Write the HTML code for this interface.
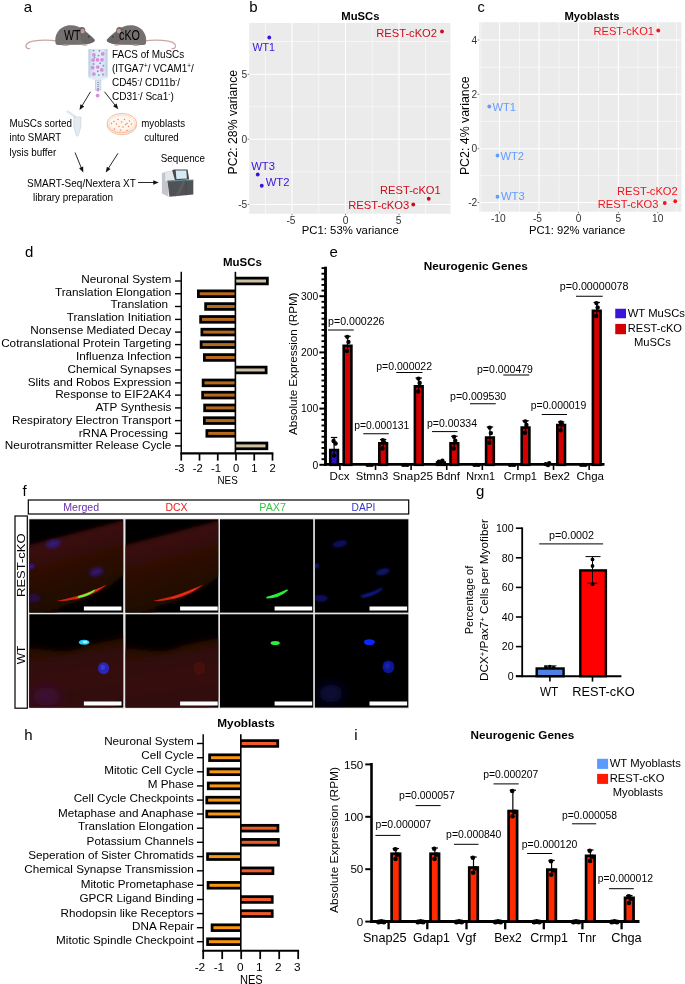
<!DOCTYPE html>
<html><head><meta charset="utf-8"><title>Figure</title>
<style>
html,body{margin:0;padding:0;background:#fff;}
body{width:685px;height:984px;overflow:hidden;}
svg{display:block;font-family:"Liberation Sans",Arial,Helvetica,sans-serif;}

</style></head><body>
<svg width="685" height="984" viewBox="0 0 685 984">
<rect x="0" y="0" width="685" height="984" fill="#fff"/>
<g id="panel-a">
<text x="23.75" y="11.50" font-size="15">a</text>
<g>
<path d="M58 41.2 C50 39.8 40 40 33 41.2 C27.5 42.2 24.8 45 26.3 47.3 C27 48.4 28.5 48.8 29.5 48.6" fill="none" stroke="#c9a7a1" stroke-width="1.3" stroke-linecap="round"/>
<path d="M55.6 43.5 C54 35.5 58.5 27 67.5 25.4 C74 24.4 79.5 26.5 83.5 29.8 C87.5 32.6 91.5 36 94.6 39.8 C95.3 41 93.5 42.6 90.5 43.3 C87.5 44.3 84 44.8 80 44.8 L60 45 C57.2 45 55.9 44.6 55.6 43.5 Z" fill="#757170"/>
<path d="M80 31 C84 31.2 91 35.5 94.6 39.8 C95.3 41 93.5 42.6 90.5 43.3 C86 44.6 82 43 80.5 39.5 Z" fill="#6a6665"/>
<ellipse cx="82" cy="30.6" rx="3.3" ry="3.6" fill="#686362"/><ellipse cx="82.6" cy="31" rx="2.1" ry="2.5" fill="#c09a95"/>
<circle cx="88.6" cy="36.8" r="0.7" fill="#2a2626"/>
<ellipse cx="65.5" cy="45.2" rx="3.4" ry="0.8" fill="#c9a7a1"/><ellipse cx="85" cy="45" rx="2.6" ry="0.75" fill="#c9a7a1"/>
</g>
<g transform="translate(201.50 0) scale(-1 1)">
<path d="M58 41.2 C50 39.8 40 40 33 41.2 C27.5 42.2 24.8 45 26.3 47.3 C27 48.4 28.5 48.8 29.5 48.6" fill="none" stroke="#c9a7a1" stroke-width="1.3" stroke-linecap="round"/>
<path d="M55.6 43.5 C54 35.5 58.5 27 67.5 25.4 C74 24.4 79.5 26.5 83.5 29.8 C87.5 32.6 91.5 36 94.6 39.8 C95.3 41 93.5 42.6 90.5 43.3 C87.5 44.3 84 44.8 80 44.8 L60 45 C57.2 45 55.9 44.6 55.6 43.5 Z" fill="#757170"/>
<path d="M80 31 C84 31.2 91 35.5 94.6 39.8 C95.3 41 93.5 42.6 90.5 43.3 C86 44.6 82 43 80.5 39.5 Z" fill="#6a6665"/>
<ellipse cx="82" cy="30.6" rx="3.3" ry="3.6" fill="#686362"/><ellipse cx="82.6" cy="31" rx="2.1" ry="2.5" fill="#c09a95"/>
<circle cx="88.6" cy="36.8" r="0.7" fill="#2a2626"/>
<ellipse cx="65.5" cy="45.2" rx="3.4" ry="0.8" fill="#c9a7a1"/><ellipse cx="85" cy="45" rx="2.6" ry="0.75" fill="#c9a7a1"/>
</g>
<text x="64.00" y="39.50" font-size="14" textLength="16.50" lengthAdjust="spacingAndGlyphs">WT</text>
<text x="119.00" y="39.50" font-size="14" textLength="21.00" lengthAdjust="spacingAndGlyphs">cKO</text>
<defs><linearGradient id="tubeg" x1="0" x2="1" y1="0" y2="0"><stop offset="0" stop-color="#b9cbe0"/><stop offset="0.18" stop-color="#d6e4f3"/><stop offset="0.5" stop-color="#e4eef9"/><stop offset="0.82" stop-color="#d6e4f3"/><stop offset="1" stop-color="#b9cbe0"/></linearGradient></defs>
<path d="M88.4 49 L107.6 49 L107.6 76 C107.6 78.5 104 80.3 98 80.3 C92 80.3 88.4 78.5 88.4 76 Z" fill="url(#tubeg)"/>
<path d="M89.5 76.5 C91 78.6 94 79.6 98 79.6 C102 79.6 105 78.6 106.5 76.5" fill="none" stroke="#f4f8fc" stroke-width="1.1"/>
<rect x="95.3" y="80" width="5.6" height="10" fill="#dbe6f2" stroke="#b4c4d8" stroke-width="0.6"/>
<rect x="97.2" y="82" width="1.8" height="0.9" fill="#8492a8"/>
<rect x="97.2" y="84" width="1.8" height="0.9" fill="#8492a8"/>
<rect x="97.2" y="86" width="1.8" height="0.9" fill="#8492a8"/>
<rect x="97.2" y="88" width="1.8" height="0.9" fill="#8492a8"/>
<circle cx="93.90" cy="54.80" r="1.85" fill="#d98ae2"/>
<circle cx="102.70" cy="53.90" r="1.85" fill="#d98ae2"/>
<circle cx="93.10" cy="60.00" r="1.85" fill="#d98ae2"/>
<circle cx="97.50" cy="59.80" r="1.85" fill="#d98ae2"/>
<circle cx="102.00" cy="59.80" r="1.85" fill="#d98ae2"/>
<circle cx="92.60" cy="67.70" r="1.85" fill="#d98ae2"/>
<circle cx="97.80" cy="67.00" r="1.85" fill="#d98ae2"/>
<circle cx="101.80" cy="69.90" r="1.85" fill="#d98ae2"/>
<circle cx="93.90" cy="74.00" r="1.85" fill="#d98ae2"/>
<circle cx="93.50" cy="50.60" r="0.95" fill="#8796b2"/>
<circle cx="99.40" cy="50.80" r="0.95" fill="#8796b2"/>
<circle cx="98.50" cy="55.60" r="0.95" fill="#8796b2"/>
<circle cx="93.50" cy="64.00" r="0.95" fill="#8796b2"/>
<circle cx="100.10" cy="63.30" r="0.95" fill="#8796b2"/>
<circle cx="103.40" cy="65.70" r="0.95" fill="#8796b2"/>
<circle cx="97.80" cy="71.20" r="0.95" fill="#8796b2"/>
<circle cx="103.00" cy="74.50" r="0.95" fill="#8796b2"/>
<circle cx="98.80" cy="75.10" r="0.95" fill="#8796b2"/>
<circle cx="94.50" cy="57.40" r="0.95" fill="#8796b2"/>
<circle cx="97.90" cy="90.00" r="1.5" fill="#d98ae2"/>
<circle cx="97.60" cy="95.60" r="1.9" fill="#d98ae2"/>
<text x="112.00" y="57.50" font-size="11.2" textLength="72.25" lengthAdjust="spacingAndGlyphs">FACS of MuSCs</text>
<text x="112" y="71.75" font-size="11.2" textLength="81.75" lengthAdjust="spacingAndGlyphs">(ITGA7<tspan font-size="7" dy="-3.6">+</tspan><tspan dy="3.6">/ VCAM1</tspan><tspan font-size="7" dy="-3.6">+</tspan><tspan dy="3.6">/</tspan></text>
<text x="112" y="86" font-size="11.2" textLength="68" lengthAdjust="spacingAndGlyphs">CD45<tspan font-size="7" dy="-3.6">-</tspan><tspan dy="3.6">/ CD11b</tspan><tspan font-size="7" dy="-3.6">-</tspan><tspan dy="3.6">/</tspan></text>
<text x="112" y="100" font-size="11.2" textLength="61.75" lengthAdjust="spacingAndGlyphs">CD31<tspan font-size="7" dy="-3.6">-</tspan><tspan dy="3.6">/ Sca1</tspan><tspan font-size="7" dy="-3.6">-</tspan><tspan dy="3.6">)</tspan></text>
<line x1="90.50" y1="91.75" x2="81.82" y2="106.15" stroke="#111" stroke-width="0.9"/>
<polygon points="79.50,110.00 80.46,104.15 84.22,106.43" fill="#111"/>
<line x1="104.50" y1="91.75" x2="115.47" y2="105.71" stroke="#111" stroke-width="0.9"/>
<polygon points="118.25,109.25 113.12,106.28 116.58,103.57" fill="#111"/>
<path d="M73.8 117 L80.9 117 L80.9 126.5 L78.2 135.6 C77.8 136.4 76.6 136.4 76.2 135.6 L73.8 126.5 Z" fill="#e4ecf1" stroke="#c3cfd8" stroke-width="0.6"/>
<path d="M74 117 L66.5 111.8 L67.6 110.7 L76 116.2 Z" fill="#e4ecf1" stroke="#c8d3db" stroke-width="0.5"/>
<ellipse cx="121.9" cy="124.9" rx="14.7" ry="9.8" fill="#fdeee4" stroke="#f4a57f" stroke-width="0.7"/>
<ellipse cx="121.9" cy="123.1" rx="14.7" ry="9.7" fill="#fff6f0" stroke="#f4a57f" stroke-width="0.7"/>
<ellipse cx="121.9" cy="123.3" rx="12.9" ry="8.2" fill="none" stroke="#f8c9b0" stroke-width="0.5"/>
<circle cx="111.50" cy="123.50" r="0.75" fill="#f0864e"/>
<circle cx="114.00" cy="121.50" r="0.75" fill="#f0864e"/>
<circle cx="116.50" cy="124.00" r="0.75" fill="#f0864e"/>
<circle cx="119.00" cy="126.50" r="0.75" fill="#f0864e"/>
<circle cx="121.50" cy="122.00" r="0.75" fill="#f0864e"/>
<circle cx="124.50" cy="119.50" r="0.75" fill="#f0864e"/>
<circle cx="123.00" cy="127.00" r="0.75" fill="#f0864e"/>
<circle cx="127.00" cy="123.50" r="0.75" fill="#f0864e"/>
<circle cx="129.50" cy="121.00" r="0.75" fill="#f0864e"/>
<circle cx="128.50" cy="126.50" r="0.75" fill="#f0864e"/>
<circle cx="131.50" cy="124.00" r="0.75" fill="#f0864e"/>
<circle cx="118.00" cy="119.50" r="0.75" fill="#f0864e"/>
<circle cx="125.50" cy="124.50" r="0.75" fill="#f0864e"/>
<circle cx="120.50" cy="130.00" r="0.75" fill="#f0864e"/>
<circle cx="127.00" cy="130.50" r="0.75" fill="#f0864e"/>
<circle cx="114.50" cy="129.00" r="0.75" fill="#f0864e"/>
<text x="9.50" y="127.00" font-size="11.2" textLength="62.50" lengthAdjust="spacingAndGlyphs">MuSCs sorted</text>
<text x="9.50" y="141.25" font-size="11.2" textLength="51.75" lengthAdjust="spacingAndGlyphs">into SMART</text>
<text x="9.50" y="155.50" font-size="11.2" textLength="46.75" lengthAdjust="spacingAndGlyphs">lysis buffer</text>
<text x="141.25" y="127.00" font-size="11.2" textLength="43.75" lengthAdjust="spacingAndGlyphs">myoblasts</text>
<text x="144.25" y="140.50" font-size="11.2" textLength="34.50" lengthAdjust="spacingAndGlyphs">cultured</text>
<line x1="75.00" y1="152.50" x2="81.53" y2="168.34" stroke="#111" stroke-width="0.9"/>
<polygon points="83.25,172.50 79.12,168.25 83.19,166.58" fill="#111"/>
<line x1="118.00" y1="153.25" x2="108.17" y2="168.70" stroke="#111" stroke-width="0.9"/>
<polygon points="105.75,172.50 106.85,166.68 110.56,169.04" fill="#111"/>
<text x="27.00" y="186.50" font-size="11.2" textLength="108.75" lengthAdjust="spacingAndGlyphs">SMART-Seq/Nextera XT</text>
<text x="33.00" y="200.50" font-size="11.2" textLength="80.00" lengthAdjust="spacingAndGlyphs">library preparation</text>
<line x1="138.00" y1="182.50" x2="154.25" y2="182.50" stroke="#111" stroke-width="0.9"/>
<polygon points="158.75,182.50 153.25,184.70 153.25,180.30" fill="#111"/>
<text x="160.75" y="161.75" font-size="11.2" textLength="44.25" lengthAdjust="spacingAndGlyphs">Sequence</text>
<path d="M161.9 173 L167 171.6 L174 170.6 L174 181 L167.6 181.5 L168.6 196.8 L161.9 193.6 Z" fill="#c3c7cb"/>
<path d="M165.2 172 L174 170.6 L174.6 180.4 L167.4 181 L165.2 181 Z" fill="#e3e7ea"/>
<path d="M172.2 170.2 L174 169.4 L187.6 169.4 L189.2 179.6 L174.9 180.3 Z" fill="#48494c"/>
<path d="M175.7 170.6 L186.3 170.6 L186.9 178.4 L176.4 178.9 Z" fill="#d6ebf6"/>
<path d="M167.4 180.7 L193.3 179.8 L193.3 194.4 L169.4 196.8 Z" fill="#515255"/>
<path d="M167.4 180.7 L193.3 179.8 L193.3 180.5 L167.5 181.5 Z" fill="#5f8f95"/>
<path d="M183 180.6 L186 180.5 L179 195.8 L175 196.2 Z" fill="#5c5d60"/>
<path d="M185.8 180.4 L186.2 180.4 L186.2 195.2 L185.8 195.2 Z" fill="#3f4043"/>
</g>
<g id="panel-b">
<text x="249.25" y="11.50" font-size="15">b</text>
<text x="341.25" y="19.50" font-size="11" font-weight="bold" textLength="38.25" lengthAdjust="spacingAndGlyphs">MuSCs</text>
<rect x="249.25" y="23.00" width="201.25" height="190.75" fill="#ebebeb"/>
<line x1="265.40" y1="23.00" x2="265.40" y2="213.75" stroke="#fff" stroke-width="0.55"/>
<line x1="318.75" y1="23.00" x2="318.75" y2="213.75" stroke="#fff" stroke-width="0.55"/>
<line x1="372.25" y1="23.00" x2="372.25" y2="213.75" stroke="#fff" stroke-width="0.55"/>
<line x1="425.60" y1="23.00" x2="425.60" y2="213.75" stroke="#fff" stroke-width="0.55"/>
<line x1="249.25" y1="41.50" x2="450.50" y2="41.50" stroke="#fff" stroke-width="0.55"/>
<line x1="249.25" y1="106.75" x2="450.50" y2="106.75" stroke="#fff" stroke-width="0.55"/>
<line x1="249.25" y1="171.85" x2="450.50" y2="171.85" stroke="#fff" stroke-width="0.55"/>
<line x1="292.00" y1="23.00" x2="292.00" y2="213.75" stroke="#fff" stroke-width="1.1"/>
<line x1="345.50" y1="23.00" x2="345.50" y2="213.75" stroke="#fff" stroke-width="1.1"/>
<line x1="399.00" y1="23.00" x2="399.00" y2="213.75" stroke="#fff" stroke-width="1.1"/>
<line x1="249.25" y1="74.25" x2="450.50" y2="74.25" stroke="#fff" stroke-width="1.1"/>
<line x1="249.25" y1="139.25" x2="450.50" y2="139.25" stroke="#fff" stroke-width="1.1"/>
<line x1="249.25" y1="204.50" x2="450.50" y2="204.50" stroke="#fff" stroke-width="1.1"/>
<line x1="292.00" y1="213.75" x2="292.00" y2="215.35" stroke="#333" stroke-width="0.6"/>
<line x1="345.50" y1="213.75" x2="345.50" y2="215.35" stroke="#333" stroke-width="0.6"/>
<line x1="399.00" y1="213.75" x2="399.00" y2="215.35" stroke="#333" stroke-width="0.6"/>
<line x1="247.65" y1="74.25" x2="249.25" y2="74.25" stroke="#333" stroke-width="0.6"/>
<line x1="247.65" y1="139.25" x2="249.25" y2="139.25" stroke="#333" stroke-width="0.6"/>
<line x1="247.65" y1="204.50" x2="249.25" y2="204.50" stroke="#333" stroke-width="0.6"/>
<text x="247.20" y="77.75" font-size="10.2" text-anchor="end" fill="#333333">5</text>
<text x="247.20" y="142.75" font-size="10.2" text-anchor="end" fill="#333333">0</text>
<text x="247.20" y="208.00" font-size="10.2" text-anchor="end" fill="#333333">-5</text>
<text x="291.00" y="223.80" font-size="10.2" text-anchor="middle" fill="#333333">-5</text>
<text x="345.50" y="223.80" font-size="10.2" text-anchor="middle" fill="#333333">0</text>
<text x="398.50" y="223.80" font-size="10.2" text-anchor="middle" fill="#333333">5</text>
<text x="301.75" y="234.25" font-size="11.2" textLength="97.00" lengthAdjust="spacingAndGlyphs">PC1: 53% variance</text>
<text x="237.30" y="122.20" font-size="12" text-anchor="middle" textLength="104.50" lengthAdjust="spacingAndGlyphs" transform="rotate(-90 237.30 122.20)">PC2: 28% variance</text>
<circle cx="269.25" cy="37.50" r="1.9" fill="#3b12d6"/>
<circle cx="257.75" cy="174.50" r="1.9" fill="#3b12d6"/>
<circle cx="261.75" cy="185.75" r="1.9" fill="#3b12d6"/>
<circle cx="442.00" cy="31.50" r="1.9" fill="#cb0c1c"/>
<circle cx="428.75" cy="198.75" r="1.9" fill="#cb0c1c"/>
<circle cx="413.25" cy="204.50" r="1.9" fill="#cb0c1c"/>
<text x="252.50" y="51.25" font-size="11.2" fill="#3b12d6" textLength="22.50" lengthAdjust="spacingAndGlyphs">WT1</text>
<text x="251.25" y="169.50" font-size="11.2" fill="#3b12d6" textLength="23.75" lengthAdjust="spacingAndGlyphs">WT3</text>
<text x="265.75" y="186.00" font-size="11.2" fill="#3b12d6" textLength="23.75" lengthAdjust="spacingAndGlyphs">WT2</text>
<text x="376.25" y="37.00" font-size="11.2" fill="#cb0c1c" textLength="60.75" lengthAdjust="spacingAndGlyphs">REST-cKO2</text>
<text x="380.00" y="194.25" font-size="11.2" fill="#cb0c1c" textLength="60.75" lengthAdjust="spacingAndGlyphs">REST-cKO1</text>
<text x="348.25" y="208.75" font-size="11.2" fill="#cb0c1c" textLength="61.00" lengthAdjust="spacingAndGlyphs">REST-cKO3</text>
</g>
<g id="panel-c">
<text x="477.50" y="11.50" font-size="14.5">c</text>
<text x="564.50" y="19.50" font-size="11" font-weight="bold" textLength="55.00" lengthAdjust="spacingAndGlyphs">Myoblasts</text>
<rect x="479.25" y="22.25" width="202.25" height="189.50" fill="#ebebeb"/>
<line x1="481.00" y1="22.25" x2="481.00" y2="211.75" stroke="#fff" stroke-width="0.55"/>
<line x1="519.50" y1="22.25" x2="519.50" y2="211.75" stroke="#fff" stroke-width="0.55"/>
<line x1="559.00" y1="22.25" x2="559.00" y2="211.75" stroke="#fff" stroke-width="0.55"/>
<line x1="598.50" y1="22.25" x2="598.50" y2="211.75" stroke="#fff" stroke-width="0.55"/>
<line x1="638.00" y1="22.25" x2="638.00" y2="211.75" stroke="#fff" stroke-width="0.55"/>
<line x1="676.50" y1="22.25" x2="676.50" y2="211.75" stroke="#fff" stroke-width="0.55"/>
<line x1="479.25" y1="67.20" x2="681.50" y2="67.20" stroke="#fff" stroke-width="0.55"/>
<line x1="479.25" y1="121.40" x2="681.50" y2="121.40" stroke="#fff" stroke-width="0.55"/>
<line x1="479.25" y1="175.60" x2="681.50" y2="175.60" stroke="#fff" stroke-width="0.55"/>
<line x1="499.50" y1="22.25" x2="499.50" y2="211.75" stroke="#fff" stroke-width="1.1"/>
<line x1="539.00" y1="22.25" x2="539.00" y2="211.75" stroke="#fff" stroke-width="1.1"/>
<line x1="578.50" y1="22.25" x2="578.50" y2="211.75" stroke="#fff" stroke-width="1.1"/>
<line x1="618.30" y1="22.25" x2="618.30" y2="211.75" stroke="#fff" stroke-width="1.1"/>
<line x1="657.75" y1="22.25" x2="657.75" y2="211.75" stroke="#fff" stroke-width="1.1"/>
<line x1="479.25" y1="40.00" x2="681.50" y2="40.00" stroke="#fff" stroke-width="1.1"/>
<line x1="479.25" y1="94.40" x2="681.50" y2="94.40" stroke="#fff" stroke-width="1.1"/>
<line x1="479.25" y1="148.75" x2="681.50" y2="148.75" stroke="#fff" stroke-width="1.1"/>
<line x1="479.25" y1="202.50" x2="681.50" y2="202.50" stroke="#fff" stroke-width="1.1"/>
<line x1="499.50" y1="211.75" x2="499.50" y2="213.35" stroke="#333" stroke-width="0.6"/>
<line x1="539.00" y1="211.75" x2="539.00" y2="213.35" stroke="#333" stroke-width="0.6"/>
<line x1="578.50" y1="211.75" x2="578.50" y2="213.35" stroke="#333" stroke-width="0.6"/>
<line x1="618.30" y1="211.75" x2="618.30" y2="213.35" stroke="#333" stroke-width="0.6"/>
<line x1="657.75" y1="211.75" x2="657.75" y2="213.35" stroke="#333" stroke-width="0.6"/>
<line x1="477.65" y1="40.00" x2="479.25" y2="40.00" stroke="#333" stroke-width="0.6"/>
<line x1="477.65" y1="94.40" x2="479.25" y2="94.40" stroke="#333" stroke-width="0.6"/>
<line x1="477.65" y1="148.75" x2="479.25" y2="148.75" stroke="#333" stroke-width="0.6"/>
<line x1="477.65" y1="202.50" x2="479.25" y2="202.50" stroke="#333" stroke-width="0.6"/>
<text x="477.20" y="43.50" font-size="10.2" text-anchor="end" fill="#333333">4</text>
<text x="477.20" y="97.90" font-size="10.2" text-anchor="end" fill="#333333">2</text>
<text x="477.20" y="152.25" font-size="10.2" text-anchor="end" fill="#333333">0</text>
<text x="477.20" y="206.00" font-size="10.2" text-anchor="end" fill="#333333">-2</text>
<text x="498.25" y="221.70" font-size="10.2" text-anchor="middle" fill="#333333">-10</text>
<text x="537.50" y="221.70" font-size="10.2" text-anchor="middle" fill="#333333">-5</text>
<text x="578.70" y="221.70" font-size="10.2" text-anchor="middle" fill="#333333">0</text>
<text x="618.40" y="221.70" font-size="10.2" text-anchor="middle" fill="#333333">5</text>
<text x="657.75" y="221.70" font-size="10.2" text-anchor="middle" fill="#333333">10</text>
<text x="529.00" y="234.25" font-size="11.2" textLength="96.25" lengthAdjust="spacingAndGlyphs">PC1: 92% variance</text>
<text x="469.30" y="125.70" font-size="12" text-anchor="middle" textLength="98.80" lengthAdjust="spacingAndGlyphs" transform="rotate(-90 469.30 125.70)">PC2: 4% variance</text>
<circle cx="489.25" cy="106.50" r="1.9" fill="#619cff"/>
<circle cx="497.50" cy="155.50" r="1.9" fill="#619cff"/>
<circle cx="497.50" cy="196.75" r="1.9" fill="#619cff"/>
<circle cx="658.25" cy="30.50" r="1.9" fill="#f2141c"/>
<circle cx="675.25" cy="201.25" r="1.9" fill="#f2141c"/>
<circle cx="664.75" cy="203.00" r="1.9" fill="#f2141c"/>
<text x="492.50" y="110.50" font-size="11.2" fill="#619cff" textLength="23.50" lengthAdjust="spacingAndGlyphs">WT1</text>
<text x="500.50" y="159.75" font-size="11.2" fill="#619cff" textLength="23.50" lengthAdjust="spacingAndGlyphs">WT2</text>
<text x="501.00" y="199.75" font-size="11.2" fill="#619cff" textLength="23.75" lengthAdjust="spacingAndGlyphs">WT3</text>
<text x="593.50" y="34.50" font-size="11.2" fill="#f2141c" textLength="60.50" lengthAdjust="spacingAndGlyphs">REST-cKO1</text>
<text x="617.00" y="194.75" font-size="11.2" fill="#f2141c" textLength="60.75" lengthAdjust="spacingAndGlyphs">REST-cKO2</text>
<text x="597.75" y="207.50" font-size="11.2" fill="#f2141c" textLength="60.75" lengthAdjust="spacingAndGlyphs">REST-cKO3</text>
</g>
<g id="panel-d">
<text x="25.00" y="257.00" font-size="15">d</text>
<text x="223.00" y="265.50" font-size="11" font-weight="bold" textLength="39.00" lengthAdjust="spacingAndGlyphs">MuSCs</text>
<rect x="235.40" y="276.75" width="33.35" height="8.50" fill="#000"/>
<rect x="235.90" y="279.50" width="30.10" height="3.00" fill="#cdbfa4"/>
<line x1="175.00" y1="281.00" x2="181.25" y2="281.00" stroke="#000" stroke-width="1.4"/>
<text x="171.40" y="282.50" font-size="11.75" text-anchor="end">Neuronal System</text>
<rect x="197.00" y="289.50" width="38.40" height="8.50" fill="#000"/>
<rect x="199.75" y="292.25" width="35.15" height="3.00" fill="#b5691f"/>
<line x1="175.00" y1="293.75" x2="181.25" y2="293.75" stroke="#000" stroke-width="1.4"/>
<text x="171.40" y="295.75" font-size="11.75" text-anchor="end">Translation Elongation</text>
<rect x="204.25" y="302.25" width="31.15" height="8.50" fill="#000"/>
<rect x="207.00" y="305.00" width="27.90" height="3.00" fill="#b5691f"/>
<line x1="175.00" y1="306.50" x2="181.25" y2="306.50" stroke="#000" stroke-width="1.4"/>
<text x="171.40" y="308.00" font-size="11.75" text-anchor="end">Translation </text>
<rect x="199.25" y="315.15" width="36.15" height="8.50" fill="#000"/>
<rect x="202.00" y="317.90" width="32.90" height="3.00" fill="#b5691f"/>
<line x1="175.00" y1="319.40" x2="181.25" y2="319.40" stroke="#000" stroke-width="1.4"/>
<text x="171.40" y="321.25" font-size="11.75" text-anchor="end">Translation Initiation</text>
<rect x="200.50" y="327.85" width="34.90" height="8.50" fill="#000"/>
<rect x="203.25" y="330.60" width="31.65" height="3.00" fill="#b5691f"/>
<line x1="175.00" y1="332.10" x2="181.25" y2="332.10" stroke="#000" stroke-width="1.4"/>
<text x="171.40" y="334.25" font-size="11.75" text-anchor="end">Nonsense Mediated Decay</text>
<rect x="199.75" y="340.35" width="35.65" height="8.50" fill="#000"/>
<rect x="202.50" y="343.10" width="32.40" height="3.00" fill="#b5691f"/>
<line x1="175.00" y1="344.60" x2="181.25" y2="344.60" stroke="#000" stroke-width="1.4"/>
<text x="171.40" y="347.00" font-size="11.75" text-anchor="end">Cotranslational Protein Targeting</text>
<rect x="203.00" y="353.25" width="32.40" height="8.50" fill="#000"/>
<rect x="205.75" y="356.00" width="29.15" height="3.00" fill="#b5691f"/>
<line x1="175.00" y1="357.50" x2="181.25" y2="357.50" stroke="#000" stroke-width="1.4"/>
<text x="171.40" y="360.00" font-size="11.75" text-anchor="end">Influenza Infection</text>
<rect x="235.40" y="365.75" width="32.10" height="8.50" fill="#000"/>
<rect x="235.90" y="368.50" width="28.85" height="3.00" fill="#cdbfa4"/>
<line x1="175.00" y1="370.00" x2="181.25" y2="370.00" stroke="#000" stroke-width="1.4"/>
<text x="171.40" y="373.00" font-size="11.75" text-anchor="end">Chemical Synapses</text>
<rect x="201.75" y="378.65" width="33.65" height="8.50" fill="#000"/>
<rect x="204.50" y="381.40" width="30.40" height="3.00" fill="#b5691f"/>
<line x1="175.00" y1="382.90" x2="181.25" y2="382.90" stroke="#000" stroke-width="1.4"/>
<text x="171.40" y="385.50" font-size="11.75" text-anchor="end">Slits and Robos Expression</text>
<rect x="201.25" y="390.85" width="34.15" height="8.50" fill="#000"/>
<rect x="204.00" y="393.60" width="30.90" height="3.00" fill="#b5691f"/>
<line x1="175.00" y1="395.10" x2="181.25" y2="395.10" stroke="#000" stroke-width="1.4"/>
<text x="171.40" y="398.25" font-size="11.75" text-anchor="end">Response to EIF2AK4</text>
<rect x="203.25" y="403.65" width="32.15" height="8.50" fill="#000"/>
<rect x="206.00" y="406.40" width="28.90" height="3.00" fill="#b5691f"/>
<line x1="175.00" y1="407.90" x2="181.25" y2="407.90" stroke="#000" stroke-width="1.4"/>
<text x="171.40" y="411.00" font-size="11.75" text-anchor="end">ATP Synthesis</text>
<rect x="203.00" y="416.35" width="32.40" height="8.50" fill="#000"/>
<rect x="205.75" y="419.10" width="29.15" height="3.00" fill="#b5691f"/>
<line x1="175.00" y1="420.60" x2="181.25" y2="420.60" stroke="#000" stroke-width="1.4"/>
<text x="171.40" y="423.75" font-size="11.75" text-anchor="end">Respiratory Electron Transport</text>
<rect x="205.50" y="429.15" width="29.90" height="8.50" fill="#000"/>
<rect x="208.25" y="431.90" width="26.65" height="3.00" fill="#b5691f"/>
<line x1="175.00" y1="433.40" x2="181.25" y2="433.40" stroke="#000" stroke-width="1.4"/>
<text x="171.40" y="436.50" font-size="11.75" text-anchor="end">rRNA Processing </text>
<rect x="235.40" y="441.65" width="32.85" height="8.50" fill="#000"/>
<rect x="235.90" y="444.40" width="29.60" height="3.00" fill="#cdbfa4"/>
<line x1="175.00" y1="445.90" x2="181.25" y2="445.90" stroke="#000" stroke-width="1.4"/>
<text x="171.40" y="449.25" font-size="11.75" text-anchor="end">Neurotransmitter Release Cycle</text>
<line x1="181.25" y1="271.80" x2="181.25" y2="454.50" stroke="#000" stroke-width="1.45"/>
<line x1="235.40" y1="271.80" x2="235.40" y2="454.00" stroke="#000" stroke-width="1.6"/>
<line x1="180.50" y1="453.40" x2="273.40" y2="453.40" stroke="#000" stroke-width="2.1"/>
<line x1="181.25" y1="453.40" x2="181.25" y2="460.60" stroke="#000" stroke-width="1.7"/>
<text x="179.45" y="472.00" font-size="11.2" text-anchor="middle">-3</text>
<line x1="199.50" y1="453.40" x2="199.50" y2="460.60" stroke="#000" stroke-width="1.7"/>
<text x="197.70" y="472.00" font-size="11.2" text-anchor="middle">-2</text>
<line x1="217.75" y1="453.40" x2="217.75" y2="460.60" stroke="#000" stroke-width="1.7"/>
<text x="215.95" y="472.00" font-size="11.2" text-anchor="middle">-1</text>
<line x1="236.00" y1="453.40" x2="236.00" y2="460.60" stroke="#000" stroke-width="1.7"/>
<text x="236.00" y="472.00" font-size="11.2" text-anchor="middle">0</text>
<line x1="254.25" y1="453.40" x2="254.25" y2="460.60" stroke="#000" stroke-width="1.7"/>
<text x="254.25" y="472.00" font-size="11.2" text-anchor="middle">1</text>
<line x1="272.50" y1="453.40" x2="272.50" y2="460.60" stroke="#000" stroke-width="1.7"/>
<text x="272.50" y="472.00" font-size="11.2" text-anchor="middle">2</text>
<text x="217.50" y="484.30" font-size="11.2" textLength="20.20" lengthAdjust="spacingAndGlyphs">NES</text>
</g>
<g id="panel-e">
<text x="329.50" y="257.00" font-size="15">e</text>
<text x="423.75" y="269.50" font-size="11" font-weight="bold" textLength="104.00" lengthAdjust="spacingAndGlyphs">Neurogenic Genes</text>
<line x1="325.50" y1="266.70" x2="325.50" y2="466.00" stroke="#000" stroke-width="2.9"/>
<line x1="324.00" y1="464.40" x2="604.50" y2="464.40" stroke="#000" stroke-width="2.9"/>
<line x1="319.40" y1="464.80" x2="325.00" y2="464.80" stroke="#000" stroke-width="2.0"/>
<line x1="321.50" y1="459.18" x2="325.00" y2="459.18" stroke="#000" stroke-width="1.9"/>
<line x1="321.50" y1="453.56" x2="325.00" y2="453.56" stroke="#000" stroke-width="1.9"/>
<line x1="321.50" y1="447.94" x2="325.00" y2="447.94" stroke="#000" stroke-width="1.9"/>
<line x1="321.50" y1="442.32" x2="325.00" y2="442.32" stroke="#000" stroke-width="1.9"/>
<line x1="321.50" y1="436.70" x2="325.00" y2="436.70" stroke="#000" stroke-width="1.9"/>
<line x1="321.50" y1="431.08" x2="325.00" y2="431.08" stroke="#000" stroke-width="1.9"/>
<line x1="321.50" y1="425.46" x2="325.00" y2="425.46" stroke="#000" stroke-width="1.9"/>
<line x1="321.50" y1="419.84" x2="325.00" y2="419.84" stroke="#000" stroke-width="1.9"/>
<line x1="321.50" y1="414.22" x2="325.00" y2="414.22" stroke="#000" stroke-width="1.9"/>
<line x1="319.40" y1="408.60" x2="325.00" y2="408.60" stroke="#000" stroke-width="2.0"/>
<line x1="321.50" y1="402.98" x2="325.00" y2="402.98" stroke="#000" stroke-width="1.9"/>
<line x1="321.50" y1="397.36" x2="325.00" y2="397.36" stroke="#000" stroke-width="1.9"/>
<line x1="321.50" y1="391.74" x2="325.00" y2="391.74" stroke="#000" stroke-width="1.9"/>
<line x1="321.50" y1="386.12" x2="325.00" y2="386.12" stroke="#000" stroke-width="1.9"/>
<line x1="321.50" y1="380.50" x2="325.00" y2="380.50" stroke="#000" stroke-width="1.9"/>
<line x1="321.50" y1="374.88" x2="325.00" y2="374.88" stroke="#000" stroke-width="1.9"/>
<line x1="321.50" y1="369.26" x2="325.00" y2="369.26" stroke="#000" stroke-width="1.9"/>
<line x1="321.50" y1="363.64" x2="325.00" y2="363.64" stroke="#000" stroke-width="1.9"/>
<line x1="321.50" y1="358.02" x2="325.00" y2="358.02" stroke="#000" stroke-width="1.9"/>
<line x1="319.40" y1="352.40" x2="325.00" y2="352.40" stroke="#000" stroke-width="2.0"/>
<line x1="321.50" y1="346.78" x2="325.00" y2="346.78" stroke="#000" stroke-width="1.9"/>
<line x1="321.50" y1="341.16" x2="325.00" y2="341.16" stroke="#000" stroke-width="1.9"/>
<line x1="321.50" y1="335.54" x2="325.00" y2="335.54" stroke="#000" stroke-width="1.9"/>
<line x1="321.50" y1="329.92" x2="325.00" y2="329.92" stroke="#000" stroke-width="1.9"/>
<line x1="321.50" y1="324.30" x2="325.00" y2="324.30" stroke="#000" stroke-width="1.9"/>
<line x1="321.50" y1="318.68" x2="325.00" y2="318.68" stroke="#000" stroke-width="1.9"/>
<line x1="321.50" y1="313.06" x2="325.00" y2="313.06" stroke="#000" stroke-width="1.9"/>
<line x1="321.50" y1="307.44" x2="325.00" y2="307.44" stroke="#000" stroke-width="1.9"/>
<line x1="321.50" y1="301.82" x2="325.00" y2="301.82" stroke="#000" stroke-width="1.9"/>
<line x1="319.40" y1="296.20" x2="325.00" y2="296.20" stroke="#000" stroke-width="2.0"/>
<line x1="321.50" y1="290.58" x2="325.00" y2="290.58" stroke="#000" stroke-width="1.9"/>
<line x1="321.50" y1="284.96" x2="325.00" y2="284.96" stroke="#000" stroke-width="1.9"/>
<line x1="321.50" y1="279.34" x2="325.00" y2="279.34" stroke="#000" stroke-width="1.9"/>
<line x1="321.50" y1="273.72" x2="325.00" y2="273.72" stroke="#000" stroke-width="1.9"/>
<line x1="321.50" y1="268.10" x2="325.00" y2="268.10" stroke="#000" stroke-width="1.9"/>
<text x="318.30" y="468.50" font-size="10.3" text-anchor="end">0</text>
<text x="318.30" y="412.30" font-size="10.3" text-anchor="end">100</text>
<text x="318.30" y="356.10" font-size="10.3" text-anchor="end">200</text>
<text x="318.30" y="299.90" font-size="10.3" text-anchor="end">300</text>
<text x="297.20" y="363.75" font-size="11.4" text-anchor="middle" textLength="142.50" lengthAdjust="spacingAndGlyphs" transform="rotate(-90 297.20 363.75)">Absolute Expression (RPM)</text>
<rect x="330.25" y="450.05" width="7.70" height="14.75" fill="#2a12b8" stroke="#000" stroke-width="2.6"/>
<rect x="343.70" y="345.80" width="7.70" height="119.00" fill="#d40000" stroke="#000" stroke-width="2.6"/>
<line x1="347.55" y1="336.25" x2="347.55" y2="350.50" stroke="#000" stroke-width="1.2"/>
<line x1="344.35" y1="336.25" x2="350.75" y2="336.25" stroke="#000" stroke-width="1.2"/>
<circle cx="347.25" cy="336.85" r="2.2" fill="#000"/>
<circle cx="348.45" cy="341.88" r="2.2" fill="#000"/>
<circle cx="346.95" cy="351.00" r="2.2" fill="#000"/>
<line x1="334.10" y1="437.50" x2="334.10" y2="455.00" stroke="#000" stroke-width="1.2"/>
<line x1="330.90" y1="437.50" x2="337.30" y2="437.50" stroke="#000" stroke-width="1.2"/>
<circle cx="333.60" cy="441.00" r="2.2" fill="#000"/>
<circle cx="335.60" cy="443.50" r="2.2" fill="#000"/>
<circle cx="334.10" cy="455.50" r="2.2" fill="#000"/>
<line x1="339.93" y1="465.00" x2="339.93" y2="470.00" stroke="#000" stroke-width="1.6"/>
<text x="329.50" y="480.00" font-size="11.4" textLength="20.00" lengthAdjust="spacingAndGlyphs">Dcx</text>
<rect x="379.30" y="443.30" width="7.70" height="21.50" fill="#d40000" stroke="#000" stroke-width="2.6"/>
<line x1="383.15" y1="439.50" x2="383.15" y2="448.00" stroke="#000" stroke-width="1.2"/>
<line x1="379.95" y1="439.50" x2="386.35" y2="439.50" stroke="#000" stroke-width="1.2"/>
<circle cx="382.85" cy="440.10" r="2.2" fill="#000"/>
<circle cx="384.05" cy="442.25" r="2.2" fill="#000"/>
<circle cx="382.55" cy="448.50" r="2.2" fill="#000"/>
<circle cx="367.50" cy="465.00" r="2.1" fill="#000"/>
<circle cx="369.70" cy="464.80" r="2.1" fill="#000"/>
<circle cx="371.90" cy="465.00" r="2.1" fill="#000"/>
<line x1="375.53" y1="465.00" x2="375.53" y2="470.00" stroke="#000" stroke-width="1.6"/>
<text x="355.75" y="480.00" font-size="11.4" textLength="32.50" lengthAdjust="spacingAndGlyphs">Stmn3</text>
<rect x="414.90" y="386.30" width="7.70" height="78.50" fill="#d40000" stroke="#000" stroke-width="2.6"/>
<line x1="418.75" y1="378.00" x2="418.75" y2="391.00" stroke="#000" stroke-width="1.2"/>
<line x1="415.55" y1="378.00" x2="421.95" y2="378.00" stroke="#000" stroke-width="1.2"/>
<circle cx="418.45" cy="378.60" r="2.2" fill="#000"/>
<circle cx="419.65" cy="383.00" r="2.2" fill="#000"/>
<circle cx="418.15" cy="391.50" r="2.2" fill="#000"/>
<circle cx="403.10" cy="465.00" r="2.1" fill="#000"/>
<circle cx="405.30" cy="464.80" r="2.1" fill="#000"/>
<circle cx="407.50" cy="465.00" r="2.1" fill="#000"/>
<line x1="411.12" y1="465.00" x2="411.12" y2="470.00" stroke="#000" stroke-width="1.6"/>
<text x="392.50" y="480.00" font-size="11.4" textLength="40.50" lengthAdjust="spacingAndGlyphs">Snap25</text>
<rect x="437.05" y="462.55" width="7.70" height="2.25" fill="#2a12b8" stroke="#000" stroke-width="2.6"/>
<rect x="450.50" y="443.30" width="7.70" height="21.50" fill="#d40000" stroke="#000" stroke-width="2.6"/>
<line x1="454.35" y1="436.25" x2="454.35" y2="448.00" stroke="#000" stroke-width="1.2"/>
<line x1="451.15" y1="436.25" x2="457.55" y2="436.25" stroke="#000" stroke-width="1.2"/>
<circle cx="454.05" cy="436.85" r="2.2" fill="#000"/>
<circle cx="455.25" cy="440.62" r="2.2" fill="#000"/>
<circle cx="453.75" cy="448.50" r="2.2" fill="#000"/>
<circle cx="438.90" cy="461.75" r="2.2" fill="#000"/>
<circle cx="442.40" cy="460.75" r="2.2" fill="#000"/>
<circle cx="441.20" cy="462.75" r="2.2" fill="#000"/>
<line x1="446.73" y1="465.00" x2="446.73" y2="470.00" stroke="#000" stroke-width="1.6"/>
<text x="436.25" y="480.00" font-size="11.4" textLength="23.75" lengthAdjust="spacingAndGlyphs">Bdnf</text>
<rect x="486.10" y="437.55" width="7.70" height="27.25" fill="#d40000" stroke="#000" stroke-width="2.6"/>
<line x1="489.95" y1="427.00" x2="489.95" y2="442.25" stroke="#000" stroke-width="1.2"/>
<line x1="486.75" y1="427.00" x2="493.15" y2="427.00" stroke="#000" stroke-width="1.2"/>
<circle cx="489.65" cy="427.60" r="2.2" fill="#000"/>
<circle cx="490.85" cy="433.12" r="2.2" fill="#000"/>
<circle cx="489.35" cy="442.75" r="2.2" fill="#000"/>
<circle cx="474.30" cy="465.00" r="2.1" fill="#000"/>
<circle cx="476.50" cy="464.80" r="2.1" fill="#000"/>
<circle cx="478.70" cy="465.00" r="2.1" fill="#000"/>
<line x1="482.33" y1="465.00" x2="482.33" y2="470.00" stroke="#000" stroke-width="1.6"/>
<text x="466.25" y="480.00" font-size="11.4" textLength="28.75" lengthAdjust="spacingAndGlyphs">Nrxn1</text>
<rect x="521.70" y="427.55" width="7.70" height="37.25" fill="#d40000" stroke="#000" stroke-width="2.6"/>
<line x1="525.55" y1="420.75" x2="525.55" y2="432.25" stroke="#000" stroke-width="1.2"/>
<line x1="522.35" y1="420.75" x2="528.75" y2="420.75" stroke="#000" stroke-width="1.2"/>
<circle cx="525.25" cy="421.35" r="2.2" fill="#000"/>
<circle cx="526.45" cy="425.00" r="2.2" fill="#000"/>
<circle cx="524.95" cy="432.75" r="2.2" fill="#000"/>
<circle cx="509.90" cy="465.00" r="2.1" fill="#000"/>
<circle cx="512.10" cy="464.80" r="2.1" fill="#000"/>
<circle cx="514.30" cy="465.00" r="2.1" fill="#000"/>
<line x1="517.93" y1="465.00" x2="517.93" y2="470.00" stroke="#000" stroke-width="1.6"/>
<text x="503.75" y="480.00" font-size="11.4" textLength="33.25" lengthAdjust="spacingAndGlyphs">Crmp1</text>
<rect x="557.30" y="425.05" width="7.70" height="39.75" fill="#d40000" stroke="#000" stroke-width="2.6"/>
<line x1="561.15" y1="421.80" x2="561.15" y2="429.75" stroke="#000" stroke-width="1.2"/>
<line x1="557.95" y1="421.80" x2="564.35" y2="421.80" stroke="#000" stroke-width="1.2"/>
<circle cx="560.85" cy="422.40" r="2.2" fill="#000"/>
<circle cx="562.05" cy="424.27" r="2.2" fill="#000"/>
<circle cx="560.55" cy="430.25" r="2.2" fill="#000"/>
<circle cx="545.70" cy="464.10" r="2.2" fill="#000"/>
<circle cx="549.20" cy="463.10" r="2.2" fill="#000"/>
<circle cx="548.00" cy="465.10" r="2.2" fill="#000"/>
<line x1="553.53" y1="465.00" x2="553.53" y2="470.00" stroke="#000" stroke-width="1.6"/>
<text x="543.75" y="480.00" font-size="11.4" textLength="26.25" lengthAdjust="spacingAndGlyphs">Bex2</text>
<rect x="592.90" y="310.80" width="7.70" height="154.00" fill="#d40000" stroke="#000" stroke-width="2.6"/>
<line x1="596.75" y1="302.50" x2="596.75" y2="315.50" stroke="#000" stroke-width="1.2"/>
<line x1="593.55" y1="302.50" x2="599.95" y2="302.50" stroke="#000" stroke-width="1.2"/>
<circle cx="596.45" cy="303.10" r="2.2" fill="#000"/>
<circle cx="597.65" cy="307.50" r="2.2" fill="#000"/>
<circle cx="596.15" cy="316.00" r="2.2" fill="#000"/>
<circle cx="581.10" cy="465.00" r="2.1" fill="#000"/>
<circle cx="583.30" cy="464.80" r="2.1" fill="#000"/>
<circle cx="585.50" cy="465.00" r="2.1" fill="#000"/>
<line x1="589.13" y1="465.00" x2="589.13" y2="470.00" stroke="#000" stroke-width="1.6"/>
<text x="576.50" y="480.00" font-size="11.4" textLength="27.50" lengthAdjust="spacingAndGlyphs">Chga</text>
<text x="328.00" y="325.00" font-size="10" textLength="56.50" lengthAdjust="spacingAndGlyphs">p=0.000226</text>
<line x1="328.00" y1="330.00" x2="353.75" y2="330.00" stroke="#000" stroke-width="1.0"/>
<text x="354.25" y="428.75" font-size="10" textLength="55.00" lengthAdjust="spacingAndGlyphs">p=0.000131</text>
<line x1="363.25" y1="433.75" x2="388.75" y2="433.75" stroke="#000" stroke-width="1.0"/>
<text x="376.25" y="370.00" font-size="10" textLength="55.75" lengthAdjust="spacingAndGlyphs">p=0.000022</text>
<line x1="396.25" y1="372.50" x2="422.50" y2="372.50" stroke="#000" stroke-width="1.0"/>
<text x="427.00" y="427.20" font-size="10" textLength="50.00" lengthAdjust="spacingAndGlyphs">p=0.00334</text>
<line x1="432.00" y1="431.60" x2="457.50" y2="431.60" stroke="#000" stroke-width="1.0"/>
<text x="450.00" y="399.50" font-size="10" textLength="56.25" lengthAdjust="spacingAndGlyphs">p=0.009530</text>
<line x1="470.00" y1="403.75" x2="495.75" y2="403.75" stroke="#000" stroke-width="1.0"/>
<text x="477.00" y="372.50" font-size="10" textLength="56.00" lengthAdjust="spacingAndGlyphs">p=0.000479</text>
<line x1="503.25" y1="375.00" x2="529.25" y2="375.00" stroke="#000" stroke-width="1.0"/>
<text x="530.75" y="408.75" font-size="10" textLength="55.50" lengthAdjust="spacingAndGlyphs">p=0.000019</text>
<line x1="541.75" y1="414.50" x2="567.00" y2="414.50" stroke="#000" stroke-width="1.0"/>
<text x="559.75" y="290.00" font-size="10" textLength="68.75" lengthAdjust="spacingAndGlyphs">p=0.00000078</text>
<line x1="576.00" y1="296.25" x2="602.75" y2="296.25" stroke="#000" stroke-width="1.0"/>
<rect x="615.25" y="308.75" width="10.75" height="9.50" fill="#3a14d8"/>
<rect x="615.25" y="323.90" width="10.75" height="10.30" fill="#d40000"/>
<text x="627.75" y="317.00" font-size="11.2" textLength="57.25" lengthAdjust="spacingAndGlyphs">WT MuSCs</text>
<text x="627.75" y="332.00" font-size="11.2" textLength="54.25" lengthAdjust="spacingAndGlyphs">REST-cKO</text>
<text x="634.00" y="345.75" font-size="11.2" textLength="36.75" lengthAdjust="spacingAndGlyphs">MuSCs</text>
</g>
<g id="panel-f">
<defs>
<filter id="bl1" x="-30%" y="-30%" width="160%" height="160%"><feGaussianBlur stdDeviation="1.3"/></filter>
<filter id="bl2" x="-30%" y="-30%" width="160%" height="160%"><feGaussianBlur stdDeviation="2.2"/></filter>
<filter id="bl2b" x="-30%" y="-30%" width="160%" height="160%"><feGaussianBlur stdDeviation="3"/></filter>
<filter id="bl3" x="-50%" y="-50%" width="200%" height="200%"><feGaussianBlur stdDeviation="6"/></filter>
<filter id="bl0" x="-30%" y="-30%" width="160%" height="160%"><feGaussianBlur stdDeviation="0.55"/></filter>
<linearGradient id="fib1" gradientUnits="userSpaceOnUse" x1="40" y1="14" x2="62" y2="95"><stop offset="0" stop-color="#3e1009"/><stop offset="0.35" stop-color="#2e0b06"/><stop offset="0.8" stop-color="#1e0704"/><stop offset="1" stop-color="#130402"/></linearGradient>
<linearGradient id="fib2" gradientUnits="userSpaceOnUse" x1="40" y1="30" x2="50" y2="95"><stop offset="0" stop-color="#2a0806"/><stop offset="0.5" stop-color="#360b08"/><stop offset="1" stop-color="#300908"/></linearGradient>
</defs>
<text x="22.60" y="495.60" font-size="15">f</text>
<rect x="28.30" y="500.00" width="380.40" height="14.00" fill="#fff" stroke="#000" stroke-width="1.2"/>
<rect x="15.00" y="516.00" width="12.30" height="192.20" fill="#fff" stroke="#000" stroke-width="1.2"/>
<text x="63.20" y="511.40" font-size="10.5" fill="#6a2fa8" textLength="36.00" lengthAdjust="spacingAndGlyphs">Merged</text>
<text x="165.40" y="511.40" font-size="10.5" fill="#e8201c" textLength="22.00" lengthAdjust="spacingAndGlyphs">DCX</text>
<text x="259.30" y="511.40" font-size="10.5" fill="#3fc04a" textLength="26.60" lengthAdjust="spacingAndGlyphs">PAX7</text>
<text x="351.50" y="511.40" font-size="10.5" fill="#3438c8" textLength="23.90" lengthAdjust="spacingAndGlyphs">DAPI</text>
<text x="25.50" y="565.20" font-size="11.5" text-anchor="middle" textLength="63.60" lengthAdjust="spacingAndGlyphs" transform="rotate(-90 25.50 565.20)">REST-cKO</text>
<text x="25.50" y="654.90" font-size="11.5" text-anchor="middle" textLength="18.70" lengthAdjust="spacingAndGlyphs" transform="rotate(-90 25.50 654.90)">WT</text>
<rect x="28.30" y="518.30" width="380.70" height="190.20" fill="#e6e6e6"/>
<clipPath id="cp00"><rect x="29.3" y="519.3" width="93.9" height="93.3"/></clipPath>
<rect x="29.30" y="519.30" width="93.90" height="93.30" fill="#000"/>
<g clip-path="url(#cp00)"><g transform="translate(29.3 519.3)">
<polygon points="-8,28 104,-1.5 104,44 92,58 78,69 55,81 32,88 22,100 -8,100" fill="url(#fib1)" filter="url(#bl2)"/>
<path d="M27.5 81.6 L48 76.8 C58 73.6 67 69.6 78 65.2 C71 70.6 63 75.3 55 77.8 C46 80.6 37 82.2 27.5 81.6 Z" fill="#cf240d" filter="url(#bl0)"/>
<path d="M46 78.6 C54 76.6 62 73.4 70 69.4" stroke="#ee3018" stroke-width="1.2" fill="none" filter="url(#bl0)"/>
<path d="M49 77.2 C55 75.8 60 73.8 65.5 70.8 C62 74.6 55.5 77.4 49 78.2 Z" fill="#6cff3c" stroke="#6cff3c" stroke-width="0.9" filter="url(#bl0)"/>
<ellipse cx="24" cy="24.5" rx="7.5" ry="3.6" fill="#321a8c" transform="rotate(-12 24 24.5)" filter="url(#bl2)"/>
<ellipse cx="67" cy="52.5" rx="7" ry="3.6" fill="#301886" transform="rotate(-15 67 52.5)" filter="url(#bl2)"/>
<ellipse cx="1" cy="47" rx="4" ry="2.6" fill="#341890" filter="url(#bl1)"/>
<ellipse cx="4" cy="79" rx="7" ry="4" fill="#2a1060" opacity="0.8" filter="url(#bl2)"/>
</g></g>
<rect x="83.90" y="606.50" width="37.60" height="4.00" fill="#fff"/>
<clipPath id="cp01"><rect x="125.5" y="519.3" width="92.8" height="93.3"/></clipPath>
<rect x="125.50" y="519.30" width="92.80" height="93.30" fill="#000"/>
<g clip-path="url(#cp01)"><g transform="translate(125.5 519.3)">
<polygon points="-8,28 104,-1.5 104,44 92,58 78,69 55,81 32,88 22,100 -8,100" fill="url(#fib1)" filter="url(#bl2)"/>
<path d="M27.5 81.6 L48 76.8 C58 73.6 67 69.6 78 65.2 C71 70.6 63 75.3 55 77.8 C46 80.6 37 82.2 27.5 81.6 Z" fill="#cf240d" filter="url(#bl0)"/>
<path d="M46 78.6 C54 76.6 62 73.4 70 69.4" stroke="#ee3018" stroke-width="1.2" fill="none" filter="url(#bl0)"/>
</g></g>
<rect x="180.10" y="606.50" width="37.60" height="4.00" fill="#fff"/>
<clipPath id="cp02"><rect x="220.0" y="519.3" width="93.2" height="93.3"/></clipPath>
<rect x="220.00" y="519.30" width="93.20" height="93.30" fill="#000"/>
<g clip-path="url(#cp02)"><g transform="translate(220.0 519.3)">
<path d="M47 78 C53 76.8 59 74.5 67.5 70.6 C62 75.5 54 78.5 47 78.6 Z" fill="#2cf03a" stroke="#2cf03a" stroke-width="1.3" filter="url(#bl0)"/>
</g></g>
<rect x="274.60" y="606.50" width="37.60" height="4.00" fill="#fff"/>
<clipPath id="cp03"><rect x="314.9" y="519.3" width="93.4" height="93.3"/></clipPath>
<rect x="314.90" y="519.30" width="93.40" height="93.30" fill="#000"/>
<g clip-path="url(#cp03)"><g transform="translate(314.9 519.3)">
<ellipse cx="25" cy="24.5" rx="7.5" ry="3.2" fill="#0a1160" transform="rotate(-12 25 24.5)" filter="url(#bl1)"/>
<ellipse cx="68" cy="52.5" rx="7" ry="3.2" fill="#0a1264" transform="rotate(-15 68 52.5)" filter="url(#bl1)"/>
<path d="M47 76.5 C54 75 61 72.5 67.5 69 C62 74 54 77.3 47 77.5 Z" fill="#1220a4" stroke="#1220a4" stroke-width="1.2" filter="url(#bl1)"/>
<ellipse cx="6" cy="79" rx="7" ry="3.6" fill="#0a1058" filter="url(#bl1)"/>
<ellipse cx="1" cy="46.5" rx="3.5" ry="2.6" fill="#0a1260" filter="url(#bl1)"/>
</g></g>
<rect x="369.50" y="606.50" width="37.60" height="4.00" fill="#fff"/>
<clipPath id="cp10"><rect x="29.3" y="614.3" width="93.9" height="93.3"/></clipPath>
<rect x="29.30" y="614.30" width="93.90" height="93.30" fill="#000"/>
<g clip-path="url(#cp10)"><g transform="translate(29.3 614.3)">
<path d="M-10 34.5 C8 33 20 36 35 36.8 C45 37.2 52 32 62 30 C75 27 85 25.5 104 22 L104 78 L74 104 L-10 104 Z" fill="url(#fib2)" filter="url(#bl2b)"/>
<ellipse cx="17" cy="82" rx="14" ry="9" fill="#42104e" opacity="0.75" filter="url(#bl3)"/>
<ellipse cx="54.8" cy="28" rx="5.2" ry="2.5" fill="#22ccff" filter="url(#bl0)"/>
<ellipse cx="55.8" cy="27.8" rx="2.5" ry="1.3" fill="#9ff4ff" filter="url(#bl0)"/>
<ellipse cx="74.3" cy="54" rx="5.6" ry="6" fill="#2c26b4" filter="url(#bl0)"/>
<ellipse cx="73.5" cy="53" rx="2.2" ry="2.6" fill="#3a3ad8" filter="url(#bl0)"/>
</g></g>
<rect x="83.90" y="701.50" width="37.60" height="4.00" fill="#fff"/>
<clipPath id="cp11"><rect x="125.5" y="614.3" width="92.8" height="93.3"/></clipPath>
<rect x="125.50" y="614.30" width="92.80" height="93.30" fill="#000"/>
<g clip-path="url(#cp11)"><g transform="translate(125.5 614.3)">
<path d="M-10 34.5 C8 33 20 36 35 36.8 C45 37.2 52 32 62 30 C75 27 85 25.5 104 22 L104 78 L74 104 L-10 104 Z" fill="url(#fib2)" filter="url(#bl2b)"/>
<ellipse cx="73.8" cy="54" rx="5" ry="5.6" fill="#46100a" stroke="#581509" stroke-width="1" filter="url(#bl1)"/>
</g></g>
<rect x="180.10" y="701.50" width="37.60" height="4.00" fill="#fff"/>
<clipPath id="cp12"><rect x="220.0" y="614.3" width="93.2" height="93.3"/></clipPath>
<rect x="220.00" y="614.30" width="93.20" height="93.30" fill="#000"/>
<g clip-path="url(#cp12)"><g transform="translate(220.0 614.3)">
<ellipse cx="55.2" cy="28.7" rx="4.6" ry="2.1" fill="#2cf03a" filter="url(#bl0)"/>
</g></g>
<rect x="274.60" y="701.50" width="37.60" height="4.00" fill="#fff"/>
<clipPath id="cp13"><rect x="314.9" y="614.3" width="93.4" height="93.3"/></clipPath>
<rect x="314.90" y="614.30" width="93.40" height="93.30" fill="#000"/>
<g clip-path="url(#cp13)"><g transform="translate(314.9 614.3)">
<ellipse cx="54.4" cy="27.8" rx="5.6" ry="2.9" fill="#0c28ff" filter="url(#bl0)"/>
<ellipse cx="73.5" cy="52.5" rx="6" ry="6.3" fill="#0e1890" filter="url(#bl0)"/>
<ellipse cx="72.5" cy="51.5" rx="2.5" ry="3" fill="#1624c0" filter="url(#bl1)"/>
<ellipse cx="16" cy="79" rx="12" ry="9" fill="#070b46" filter="url(#bl3)"/>
</g></g>
<rect x="369.50" y="701.50" width="37.60" height="4.00" fill="#fff"/>
</g>
<g id="panel-g">
<text x="476.00" y="495.60" font-size="15">g</text>
<line x1="522.20" y1="527.40" x2="522.20" y2="677.20" stroke="#000" stroke-width="1.8"/>
<line x1="515.90" y1="676.20" x2="621.40" y2="676.20" stroke="#000" stroke-width="2.1"/>
<line x1="515.90" y1="676.20" x2="522.20" y2="676.20" stroke="#000" stroke-width="1.6"/>
<text x="513.60" y="680.00" font-size="10.6" text-anchor="end">0</text>
<line x1="515.90" y1="646.60" x2="522.20" y2="646.60" stroke="#000" stroke-width="1.6"/>
<text x="513.60" y="650.40" font-size="10.6" text-anchor="end">20</text>
<line x1="515.90" y1="617.00" x2="522.20" y2="617.00" stroke="#000" stroke-width="1.6"/>
<text x="513.60" y="620.80" font-size="10.6" text-anchor="end">40</text>
<line x1="515.90" y1="587.40" x2="522.20" y2="587.40" stroke="#000" stroke-width="1.6"/>
<text x="513.60" y="591.20" font-size="10.6" text-anchor="end">60</text>
<line x1="515.90" y1="557.80" x2="522.20" y2="557.80" stroke="#000" stroke-width="1.6"/>
<text x="513.60" y="561.60" font-size="10.6" text-anchor="end">80</text>
<line x1="515.90" y1="528.20" x2="522.20" y2="528.20" stroke="#000" stroke-width="1.6"/>
<text x="513.60" y="532.00" font-size="10.6" text-anchor="end">100</text>
<rect x="536.70" y="668.50" width="26.90" height="7.70" fill="#4f80e6" stroke="#000" stroke-width="2.4"/>
<rect x="580.30" y="570.40" width="25.60" height="105.80" fill="#ff0000" stroke="#000" stroke-width="2.4"/>
<line x1="592.50" y1="556.60" x2="592.50" y2="583.20" stroke="#000" stroke-width="1.0"/>
<line x1="585.50" y1="556.60" x2="600.50" y2="556.60" stroke="#000" stroke-width="1.0"/>
<line x1="587.50" y1="583.20" x2="597.50" y2="583.20" stroke="#000" stroke-width="1.0"/>
<circle cx="592.50" cy="559.40" r="1.9" fill="#000"/>
<circle cx="592.50" cy="566.00" r="1.9" fill="#000"/>
<circle cx="592.50" cy="584.20" r="1.9" fill="#000"/>
<line x1="544.00" y1="665.90" x2="556.50" y2="665.90" stroke="#000" stroke-width="1.0"/>
<line x1="550.00" y1="665.90" x2="550.00" y2="668.50" stroke="#000" stroke-width="1.0"/>
<circle cx="545.90" cy="667.20" r="1.8" fill="#000"/>
<circle cx="549.80" cy="666.60" r="1.8" fill="#000"/>
<circle cx="553.60" cy="667.60" r="1.8" fill="#000"/>
<line x1="549.90" y1="676.20" x2="549.90" y2="681.60" stroke="#000" stroke-width="1.6"/>
<line x1="592.50" y1="676.20" x2="592.50" y2="681.60" stroke="#000" stroke-width="1.6"/>
<text x="539.90" y="695.80" font-size="12.6" textLength="18.30" lengthAdjust="spacingAndGlyphs">WT</text>
<text x="572.20" y="695.80" font-size="12.6" textLength="62.50" lengthAdjust="spacingAndGlyphs">REST-cKO</text>
<text x="548.90" y="538.90" font-size="10.2" textLength="45.20" lengthAdjust="spacingAndGlyphs">p=0.0002</text>
<line x1="539.20" y1="543.90" x2="603.10" y2="543.90" stroke="#000" stroke-width="1.0"/>
<text x="473.20" y="600.00" font-size="11" text-anchor="middle" transform="rotate(-90 473.20 600.00)">Percentage of</text>
<text x="488.3" y="600" font-size="11" text-anchor="middle" transform="rotate(-90 488.3 600)" textLength="162" lengthAdjust="spacingAndGlyphs">DCX<tspan font-size="7" dy="-3.5">+</tspan><tspan dy="3.5">/Pax7</tspan><tspan font-size="7" dy="-3.5">+</tspan><tspan dy="3.5"> Cells per Myofiber</tspan></text>
</g>
<g id="panel-h">
<text x="24.20" y="740.00" font-size="15">h</text>
<text x="217.30" y="727.20" font-size="11" font-weight="bold" textLength="57.60" lengthAdjust="spacingAndGlyphs">Myoblasts</text>
<rect x="240.80" y="739.25" width="38.30" height="8.50" fill="#000"/>
<rect x="241.30" y="742.00" width="35.05" height="3.00" fill="#f05a28"/>
<line x1="196.90" y1="743.50" x2="203.20" y2="743.50" stroke="#000" stroke-width="1.4"/>
<text x="193.80" y="745.00" font-size="11.7" text-anchor="end">Neuronal System</text>
<rect x="208.20" y="753.45" width="32.60" height="8.50" fill="#000"/>
<rect x="210.95" y="756.20" width="29.35" height="3.00" fill="#f7960f"/>
<line x1="196.90" y1="757.70" x2="203.20" y2="757.70" stroke="#000" stroke-width="1.4"/>
<text x="193.80" y="759.40" font-size="11.7" text-anchor="end">Cell Cycle</text>
<rect x="206.70" y="767.55" width="34.10" height="8.50" fill="#000"/>
<rect x="209.45" y="770.30" width="30.85" height="3.00" fill="#f7960f"/>
<line x1="196.90" y1="771.80" x2="203.20" y2="771.80" stroke="#000" stroke-width="1.4"/>
<text x="193.80" y="773.70" font-size="11.7" text-anchor="end">Mitotic Cell Cycle</text>
<rect x="206.90" y="781.65" width="33.90" height="8.50" fill="#000"/>
<rect x="209.65" y="784.40" width="30.65" height="3.00" fill="#f7960f"/>
<line x1="196.90" y1="785.90" x2="203.20" y2="785.90" stroke="#000" stroke-width="1.4"/>
<text x="193.80" y="788.10" font-size="11.7" text-anchor="end">M Phase</text>
<rect x="205.40" y="795.85" width="35.40" height="8.50" fill="#000"/>
<rect x="208.15" y="798.60" width="32.15" height="3.00" fill="#f7960f"/>
<line x1="196.90" y1="800.10" x2="203.20" y2="800.10" stroke="#000" stroke-width="1.4"/>
<text x="193.80" y="802.40" font-size="11.7" text-anchor="end">Cell Cycle Checkpoints</text>
<rect x="205.40" y="809.75" width="35.40" height="8.50" fill="#000"/>
<rect x="208.15" y="812.50" width="32.15" height="3.00" fill="#f7960f"/>
<line x1="196.90" y1="814.00" x2="203.20" y2="814.00" stroke="#000" stroke-width="1.4"/>
<text x="193.80" y="816.60" font-size="11.7" text-anchor="end">Metaphase and Anaphase</text>
<rect x="240.80" y="823.95" width="38.50" height="8.50" fill="#000"/>
<rect x="241.30" y="826.70" width="35.25" height="3.00" fill="#f05a28"/>
<line x1="196.90" y1="828.20" x2="203.20" y2="828.20" stroke="#000" stroke-width="1.4"/>
<text x="193.80" y="829.80" font-size="11.7" text-anchor="end">Translation Elongation</text>
<rect x="240.80" y="838.05" width="39.00" height="8.50" fill="#000"/>
<rect x="241.30" y="840.80" width="35.75" height="3.00" fill="#f05a28"/>
<line x1="196.90" y1="842.30" x2="203.20" y2="842.30" stroke="#000" stroke-width="1.4"/>
<text x="193.80" y="845.00" font-size="11.7" text-anchor="end">Potassium Channels</text>
<rect x="206.20" y="852.35" width="34.60" height="8.50" fill="#000"/>
<rect x="208.95" y="855.10" width="31.35" height="3.00" fill="#f7960f"/>
<line x1="196.90" y1="856.60" x2="203.20" y2="856.60" stroke="#000" stroke-width="1.4"/>
<text x="193.80" y="858.70" font-size="11.7" text-anchor="end">Seperation of Sister Chromatids</text>
<rect x="240.80" y="866.55" width="33.50" height="8.50" fill="#000"/>
<rect x="241.30" y="869.30" width="30.25" height="3.00" fill="#f05a28"/>
<line x1="196.90" y1="870.80" x2="203.20" y2="870.80" stroke="#000" stroke-width="1.4"/>
<text x="193.80" y="873.20" font-size="11.7" text-anchor="end">Chemical Synapse Transmission</text>
<rect x="206.70" y="881.05" width="34.10" height="8.50" fill="#000"/>
<rect x="209.45" y="883.80" width="30.85" height="3.00" fill="#f7960f"/>
<line x1="196.90" y1="885.30" x2="203.20" y2="885.30" stroke="#000" stroke-width="1.4"/>
<text x="193.80" y="888.20" font-size="11.7" text-anchor="end">Mitotic Prometaphase</text>
<rect x="240.80" y="895.25" width="32.80" height="8.50" fill="#000"/>
<rect x="241.30" y="898.00" width="29.55" height="3.00" fill="#f05a28"/>
<line x1="196.90" y1="899.50" x2="203.20" y2="899.50" stroke="#000" stroke-width="1.4"/>
<text x="193.80" y="902.40" font-size="11.7" text-anchor="end">GPCR Ligand Binding</text>
<rect x="240.80" y="909.35" width="32.80" height="8.50" fill="#000"/>
<rect x="241.30" y="912.10" width="29.55" height="3.00" fill="#f05a28"/>
<line x1="196.90" y1="913.60" x2="203.20" y2="913.60" stroke="#000" stroke-width="1.4"/>
<text x="193.80" y="916.60" font-size="11.7" text-anchor="end">Rhodopsin like Receptors</text>
<rect x="210.70" y="923.45" width="30.10" height="8.50" fill="#000"/>
<rect x="213.45" y="926.20" width="26.85" height="3.00" fill="#f7960f"/>
<line x1="196.90" y1="927.70" x2="203.20" y2="927.70" stroke="#000" stroke-width="1.4"/>
<text x="193.80" y="929.90" font-size="11.7" text-anchor="end">DNA Repair</text>
<rect x="206.20" y="937.45" width="34.60" height="8.50" fill="#000"/>
<rect x="208.95" y="940.20" width="31.35" height="3.00" fill="#f7960f"/>
<line x1="196.90" y1="941.70" x2="203.20" y2="941.70" stroke="#000" stroke-width="1.4"/>
<text x="193.80" y="944.30" font-size="11.7" text-anchor="end">Mitotic Spindle Checkpoint</text>
<line x1="203.20" y1="734.30" x2="203.20" y2="951.80" stroke="#000" stroke-width="1.45"/>
<line x1="240.80" y1="734.30" x2="240.80" y2="951.00" stroke="#000" stroke-width="1.6"/>
<line x1="202.40" y1="950.80" x2="299.10" y2="950.80" stroke="#000" stroke-width="2.1"/>
<line x1="203.20" y1="950.80" x2="203.20" y2="959.10" stroke="#000" stroke-width="1.75"/>
<text x="199.90" y="970.90" font-size="11.8" text-anchor="middle">-2</text>
<line x1="222.20" y1="950.80" x2="222.20" y2="959.10" stroke="#000" stroke-width="1.75"/>
<text x="218.90" y="970.90" font-size="11.8" text-anchor="middle">-1</text>
<line x1="241.20" y1="950.80" x2="241.20" y2="959.10" stroke="#000" stroke-width="1.75"/>
<text x="240.40" y="970.90" font-size="11.8" text-anchor="middle">0</text>
<line x1="260.20" y1="950.80" x2="260.20" y2="959.10" stroke="#000" stroke-width="1.75"/>
<text x="259.40" y="970.90" font-size="11.8" text-anchor="middle">1</text>
<line x1="279.20" y1="950.80" x2="279.20" y2="959.10" stroke="#000" stroke-width="1.75"/>
<text x="278.40" y="970.90" font-size="11.8" text-anchor="middle">2</text>
<line x1="298.20" y1="950.80" x2="298.20" y2="959.10" stroke="#000" stroke-width="1.75"/>
<text x="297.40" y="970.90" font-size="11.8" text-anchor="middle">3</text>
<text x="239.90" y="984.30" font-size="12" textLength="22.80" lengthAdjust="spacingAndGlyphs">NES</text>
</g>
<g id="panel-i">
<text x="354.20" y="740.00" font-size="15">i</text>
<text x="470.60" y="739.10" font-size="11" font-weight="bold" textLength="103.60" lengthAdjust="spacingAndGlyphs">Neurogenic Genes</text>
<line x1="371.50" y1="763.00" x2="371.50" y2="923.00" stroke="#000" stroke-width="2.6"/>
<line x1="370.20" y1="921.60" x2="639.50" y2="921.60" stroke="#000" stroke-width="3.0"/>
<line x1="365.30" y1="921.60" x2="371.20" y2="921.60" stroke="#000" stroke-width="2.0"/>
<text x="363.30" y="925.70" font-size="11.6" text-anchor="end">0</text>
<line x1="365.30" y1="869.20" x2="371.20" y2="869.20" stroke="#000" stroke-width="2.0"/>
<text x="363.30" y="873.30" font-size="11.6" text-anchor="end">50</text>
<line x1="365.30" y1="816.80" x2="371.20" y2="816.80" stroke="#000" stroke-width="2.0"/>
<text x="363.30" y="820.90" font-size="11.6" text-anchor="end">100</text>
<line x1="365.30" y1="764.40" x2="371.20" y2="764.40" stroke="#000" stroke-width="2.0"/>
<text x="363.30" y="768.50" font-size="11.6" text-anchor="end">150</text>
<text x="337.60" y="840.00" font-size="11.6" text-anchor="middle" textLength="146.00" lengthAdjust="spacingAndGlyphs" transform="rotate(-90 337.60 840.00)">Absolute Expression (RPM)</text>
<rect x="391.60" y="853.75" width="8.50" height="67.85" fill="#ff2a00" stroke="#000" stroke-width="2.7"/>
<line x1="395.85" y1="848.50" x2="395.85" y2="858.40" stroke="#000" stroke-width="1.2"/>
<line x1="392.65" y1="848.50" x2="399.05" y2="848.50" stroke="#000" stroke-width="1.2"/>
<circle cx="395.25" cy="849.30" r="2.3" fill="#000"/>
<circle cx="397.65" cy="854.60" r="2.3" fill="#000"/>
<circle cx="395.55" cy="858.90" r="2.3" fill="#000"/>
<circle cx="378.60" cy="921.90" r="2.5" fill="#000"/>
<circle cx="381.20" cy="921.60" r="2.5" fill="#000"/>
<circle cx="383.80" cy="921.90" r="2.5" fill="#000"/>
<line x1="388.60" y1="921.80" x2="388.60" y2="929.30" stroke="#000" stroke-width="2.3"/>
<text x="362.90" y="942.20" font-size="12.4" textLength="43.70" lengthAdjust="spacingAndGlyphs">Snap25</text>
<rect x="430.55" y="853.75" width="8.50" height="67.85" fill="#ff2a00" stroke="#000" stroke-width="2.7"/>
<line x1="434.80" y1="848.00" x2="434.80" y2="858.40" stroke="#000" stroke-width="1.2"/>
<line x1="431.60" y1="848.00" x2="438.00" y2="848.00" stroke="#000" stroke-width="1.2"/>
<circle cx="434.20" cy="848.80" r="2.3" fill="#000"/>
<circle cx="436.60" cy="854.60" r="2.3" fill="#000"/>
<circle cx="434.50" cy="858.90" r="2.3" fill="#000"/>
<circle cx="417.90" cy="921.90" r="2.5" fill="#000"/>
<circle cx="420.50" cy="921.60" r="2.5" fill="#000"/>
<circle cx="423.10" cy="921.90" r="2.5" fill="#000"/>
<line x1="427.30" y1="921.80" x2="427.30" y2="929.30" stroke="#000" stroke-width="2.3"/>
<text x="413.10" y="942.20" font-size="12.4" textLength="36.70" lengthAdjust="spacingAndGlyphs">Gdap1</text>
<rect x="469.25" y="867.55" width="8.50" height="54.05" fill="#ff2a00" stroke="#000" stroke-width="2.7"/>
<line x1="473.50" y1="857.00" x2="473.50" y2="872.20" stroke="#000" stroke-width="1.2"/>
<line x1="470.30" y1="857.00" x2="476.70" y2="857.00" stroke="#000" stroke-width="1.2"/>
<circle cx="472.90" cy="857.80" r="2.3" fill="#000"/>
<circle cx="475.30" cy="868.40" r="2.3" fill="#000"/>
<circle cx="473.20" cy="872.70" r="2.3" fill="#000"/>
<circle cx="456.40" cy="921.90" r="2.5" fill="#000"/>
<circle cx="459.00" cy="921.60" r="2.5" fill="#000"/>
<circle cx="461.60" cy="921.90" r="2.5" fill="#000"/>
<line x1="466.50" y1="921.80" x2="466.50" y2="929.30" stroke="#000" stroke-width="2.3"/>
<text x="456.50" y="942.20" font-size="12.4" textLength="19.50" lengthAdjust="spacingAndGlyphs">Vgf</text>
<rect x="508.60" y="811.05" width="8.50" height="110.55" fill="#ff2a00" stroke="#000" stroke-width="2.7"/>
<line x1="512.85" y1="790.20" x2="512.85" y2="815.70" stroke="#000" stroke-width="1.2"/>
<line x1="509.65" y1="790.20" x2="516.05" y2="790.20" stroke="#000" stroke-width="1.2"/>
<circle cx="512.25" cy="791.00" r="2.3" fill="#000"/>
<circle cx="514.65" cy="811.90" r="2.3" fill="#000"/>
<circle cx="512.55" cy="816.20" r="2.3" fill="#000"/>
<circle cx="495.40" cy="921.90" r="2.5" fill="#000"/>
<circle cx="498.00" cy="921.60" r="2.5" fill="#000"/>
<circle cx="500.60" cy="921.90" r="2.5" fill="#000"/>
<line x1="505.20" y1="921.80" x2="505.20" y2="929.30" stroke="#000" stroke-width="2.3"/>
<text x="494.20" y="942.20" font-size="12.4" textLength="27.60" lengthAdjust="spacingAndGlyphs">Bex2</text>
<rect x="547.35" y="869.65" width="8.50" height="51.95" fill="#ff2a00" stroke="#000" stroke-width="2.7"/>
<line x1="551.60" y1="860.40" x2="551.60" y2="874.30" stroke="#000" stroke-width="1.2"/>
<line x1="548.40" y1="860.40" x2="554.80" y2="860.40" stroke="#000" stroke-width="1.2"/>
<circle cx="551.00" cy="861.20" r="2.3" fill="#000"/>
<circle cx="553.40" cy="870.50" r="2.3" fill="#000"/>
<circle cx="551.30" cy="874.80" r="2.3" fill="#000"/>
<circle cx="534.10" cy="921.90" r="2.5" fill="#000"/>
<circle cx="536.70" cy="921.60" r="2.5" fill="#000"/>
<circle cx="539.30" cy="921.90" r="2.5" fill="#000"/>
<line x1="543.80" y1="921.80" x2="543.80" y2="929.30" stroke="#000" stroke-width="2.3"/>
<text x="530.30" y="942.20" font-size="12.4" textLength="37.60" lengthAdjust="spacingAndGlyphs">Crmp1</text>
<rect x="586.10" y="855.85" width="8.50" height="65.75" fill="#ff2a00" stroke="#000" stroke-width="2.7"/>
<line x1="590.35" y1="850.00" x2="590.35" y2="860.50" stroke="#000" stroke-width="1.2"/>
<line x1="587.15" y1="850.00" x2="593.55" y2="850.00" stroke="#000" stroke-width="1.2"/>
<circle cx="589.75" cy="850.80" r="2.3" fill="#000"/>
<circle cx="592.15" cy="856.70" r="2.3" fill="#000"/>
<circle cx="590.05" cy="861.00" r="2.3" fill="#000"/>
<circle cx="573.40" cy="921.90" r="2.5" fill="#000"/>
<circle cx="576.00" cy="921.60" r="2.5" fill="#000"/>
<circle cx="578.60" cy="921.90" r="2.5" fill="#000"/>
<line x1="582.40" y1="921.80" x2="582.40" y2="929.30" stroke="#000" stroke-width="2.3"/>
<text x="577.70" y="942.20" font-size="12.4" textLength="18.50" lengthAdjust="spacingAndGlyphs">Tnr</text>
<rect x="625.05" y="897.85" width="8.50" height="23.75" fill="#ff2a00" stroke="#000" stroke-width="2.7"/>
<line x1="629.30" y1="895.50" x2="629.30" y2="902.50" stroke="#000" stroke-width="1.2"/>
<line x1="626.10" y1="895.50" x2="632.50" y2="895.50" stroke="#000" stroke-width="1.2"/>
<circle cx="628.70" cy="896.30" r="2.3" fill="#000"/>
<circle cx="631.10" cy="898.70" r="2.3" fill="#000"/>
<circle cx="629.00" cy="903.00" r="2.3" fill="#000"/>
<circle cx="611.80" cy="921.90" r="2.5" fill="#000"/>
<circle cx="614.40" cy="921.60" r="2.5" fill="#000"/>
<circle cx="617.00" cy="921.90" r="2.5" fill="#000"/>
<line x1="621.60" y1="921.80" x2="621.60" y2="929.30" stroke="#000" stroke-width="2.3"/>
<text x="611.20" y="942.20" font-size="12.4" textLength="30.50" lengthAdjust="spacingAndGlyphs">Chga</text>
<text x="375.40" y="827.90" font-size="10" textLength="55.70" lengthAdjust="spacingAndGlyphs">p=0.000007</text>
<line x1="375.40" y1="835.40" x2="400.40" y2="835.40" stroke="#000" stroke-width="1.0"/>
<text x="399.10" y="798.70" font-size="10" textLength="55.70" lengthAdjust="spacingAndGlyphs">p=0.000057</text>
<line x1="415.60" y1="805.60" x2="440.60" y2="805.60" stroke="#000" stroke-width="1.0"/>
<text x="446.10" y="838.40" font-size="10" textLength="55.30" lengthAdjust="spacingAndGlyphs">p=0.000840</text>
<line x1="454.00" y1="844.30" x2="478.50" y2="844.30" stroke="#000" stroke-width="1.0"/>
<text x="483.20" y="777.70" font-size="10" textLength="55.20" lengthAdjust="spacingAndGlyphs">p=0.000207</text>
<line x1="493.50" y1="783.90" x2="518.70" y2="783.90" stroke="#000" stroke-width="1.0"/>
<text x="521.80" y="848.10" font-size="10" textLength="55.50" lengthAdjust="spacingAndGlyphs">p=0.000120</text>
<line x1="527.10" y1="853.50" x2="552.20" y2="853.50" stroke="#000" stroke-width="1.0"/>
<text x="562.00" y="819.10" font-size="10" textLength="54.90" lengthAdjust="spacingAndGlyphs">p=0.000058</text>
<line x1="572.00" y1="823.80" x2="596.20" y2="823.80" stroke="#000" stroke-width="1.0"/>
<text x="597.70" y="882.40" font-size="10" textLength="55.30" lengthAdjust="spacingAndGlyphs">p=0.000012</text>
<line x1="609.00" y1="888.70" x2="633.80" y2="888.70" stroke="#000" stroke-width="1.0"/>
<rect x="597.10" y="758.80" width="11.00" height="10.10" fill="#5b9bff"/>
<rect x="597.10" y="773.90" width="11.00" height="10.00" fill="#ff1a00"/>
<text x="609.70" y="766.70" font-size="11.2" textLength="71.20" lengthAdjust="spacingAndGlyphs">WT Myoblasts</text>
<text x="609.70" y="781.70" font-size="11.2" textLength="54.90" lengthAdjust="spacingAndGlyphs">REST-cKO</text>
<text x="612.80" y="795.90" font-size="11.2" textLength="50.20" lengthAdjust="spacingAndGlyphs">Myoblasts</text>
</g>
</svg>
</body></html>
